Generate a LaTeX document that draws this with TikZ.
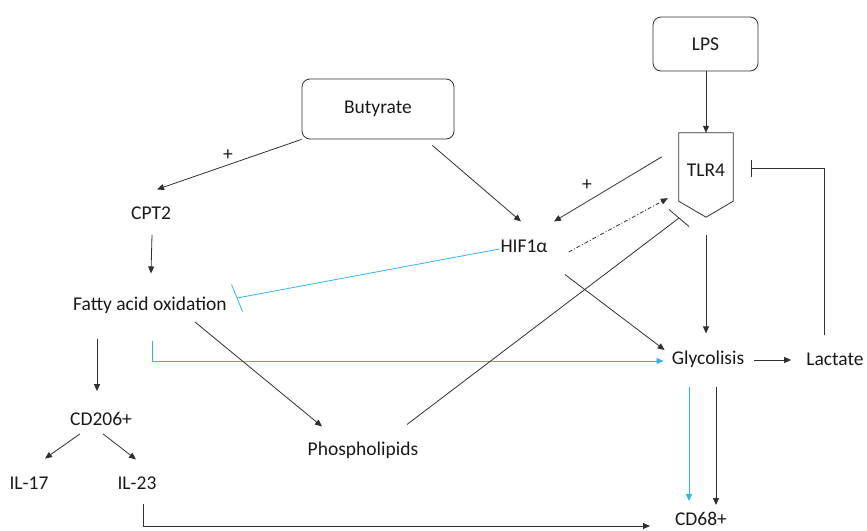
\documentclass[tikz,border=0pt]{standalone}
\usepackage{fontspec}
\setmainfont{Carlito}
\usetikzlibrary{arrows.meta,calc}
\definecolor{ln}{HTML}{303030}
\definecolor{bl}{HTML}{2CB5F0}
\begin{document}
\begin{tikzpicture}[x=1pt,y=-1pt,
  txt/.style={font=\fontsize{19.5}{23}\selectfont, inner sep=0pt, text=black!90},
  box/.style={draw=ln, rounded corners=8pt, line width=0.8pt, font=\fontsize{19.5}{23}\selectfont, text=black!90},
  arr/.style={draw=ln, line width=0.8pt, -{Triangle[length=7pt,width=6pt]}},
  barr/.style={draw=bl, line width=0.8pt, -{Triangle[length=7pt,width=6pt]}},
  dsh/.style={draw=ln, line width=0.8pt, dash pattern=on 4pt off 2pt on 1pt off 2pt, -{Triangle[length=7pt,width=6pt]}},
  inh/.style={draw=ln, line width=0.8pt},
  binh/.style={draw=bl, line width=0.8pt},
]
\useasboundingbox (0,0) rectangle (867,530);
% boxes
\node[box, minimum width=105pt, minimum height=54pt] (lps) at (705.5,44) {LPS};
\node[box, minimum width=152pt, minimum height=60pt] (but) at (378,109) {Butyrate};
% TLR4 pentagon
\node[minimum width=54pt, minimum height=84pt, inner sep=0pt] (tlr) at (706,175) {};
\draw[ln, line width=0.8pt] (tlr.north west) -- (tlr.north east) -- ($(tlr.south east)+(0,-16)$) -- (tlr.south) -- ($(tlr.south west)+(0,-16)$) -- cycle;
\node[txt] (tlrt) at (706,170) {TLR4};
% texts
\node[txt] (cpt) at (151,213) {CPT2};
\node[txt] (hif) at (524,246) {HIF1α};
\node[txt] (fao) at (150,305) {Fatty acid oxidation};
\node[txt] (gly) at (708,359) {Glycolisis};
\node[txt] (lac) at (835,359) {Lactate};
\node[txt] (pho) at (363,450) {Phospholipids};
\node[txt] (cd206) at (101,419) {CD206+};
\node[txt] (il17) at (29,483) {IL-17};
\node[txt] (il23) at (137,483) {IL-23};
\node[txt] (cd68) at (701,519) {CD68+};
\node[txt] (p1) at (228,155) {+};
\node[txt] (p2) at (587,185) {+};
% connectors
\draw[arr] (lps.south -| tlr.north) -- (tlr.north);
\draw[arr] ($(but.south west)+(0,0)$) -- ($(cpt.north)+(6,-17)$);
\draw[arr] ($(but.south east)+(-22,6)$) -- ($(hif.north)+(-3,-18)$);
\draw[arr] ($(tlr.north west)+(-17,24)$) -- ($(hif.north)+(30,-18)$);
\draw[dsh] ($(hif.east)+(21,6)$) -- ($(tlr.south west)+(-11,-19)$);
\draw[arr] ($(cpt.south)+(1,15)$) -- ($(fao.north)+(1,-23)$);
\draw[binh] ($(hif.west)+(-1,3)$) -- (237,298) coordinate (b1);
\draw[binh] ($(b1)+(-5.5,-13.5)$) -- ($(b1)+(5.5,13.5)$);
\draw[arr] ($(tlr.south)+(0,18)$) -- ($(gly.north)+(-2,-17)$);
\draw[arr] ($(hif.south)+(41,22)$) -- ($(gly.west)+(-7,-9)$);
\draw[barr] ($(fao.south)+(2,27)$) |- ($(gly.west)+(-8,2)$);
\draw[arr] ($(gly.east)+(10,1)$) -- ($(lac.west)+(-15,1)$);
\draw[inh] ($(lac.north)+(-11,-17)$) |- (751,168) coordinate (b2);
\draw[inh] ($(b2)+(0,-8.5)$) -- ($(b2)+(0,8.5)$);
\draw[arr] ($(fao.east)+(-32,17)$) -- ($(pho.north)+(-41,-15)$);
\draw[inh] ($(pho.north)+(44,-17)$) -- (679,218) coordinate (b3);
\draw[inh] ($(b3)+(-10,-8.5)$) -- ($(b3)+(10,8.5)$);
\draw[arr] ($(fao.south)+(-53,25)$) -- ($(cd206.north)+(-4,-21)$);
\draw[arr] ($(cd206.south)+(-21,8)$) -- ($(il17.north)+(16,-18)$);
\draw[arr] ($(cd206.south)+(2,8)$) -- ($(il23.north)+(-1,-17)$);
\draw[barr] ($(gly.south)+(-19,19)$) -- (689,501);
\draw[arr] ($(gly.south)+(8,19)$) -- (716,505);
\draw[arr] ($(il23.south)+(6,14)$) |- (650,526);
\end{tikzpicture}
\end{document}
